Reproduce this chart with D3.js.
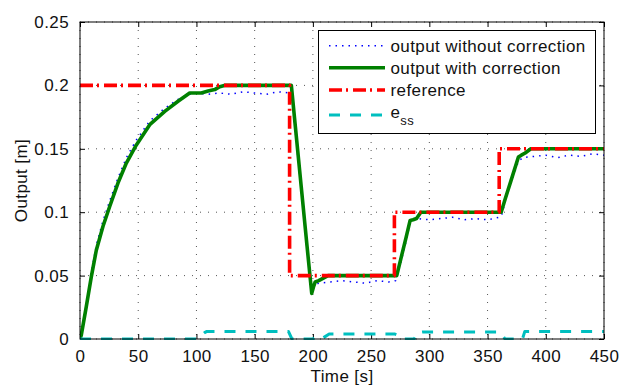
<!DOCTYPE html>
<html>
<head>
<meta charset="utf-8">
<script src="https://cdn.jsdelivr.net/npm/d3@7"></script>
<style>
  body { margin: 0; background: #fff; }
  text { font-family: "Liberation Sans", Arial, sans-serif; letter-spacing: 0.4px; fill: #111; }
</style>
</head>
<body>
<div id="chart"></div>
<script>
// reference step signal
const refTime = [0, 180, 180, 270, 270, 360, 360, 450];
const refValue = [0.2, 0.2, 0.05, 0.05, 0.1, 0.1, 0.15, 0.15];

// output with correction
const withTime = [0, 1.1, 5.4, 9.7, 14, 19.7, 25.5, 32.6, 39.8, 48.4, 59.9, 72.8, 84.2, 94.2, 104.2, 110, 115.7, 120, 124,
  181.5, 185, 190, 195, 199, 200.5, 202, 205, 209, 213, 272, 276, 280, 283.5, 286, 289, 292.7,
  361.7, 365, 370, 376.5, 379, 382.3, 387.2, 450];
const withValue = [0, 0.003, 0.0255, 0.049, 0.07, 0.0887, 0.1045, 0.123, 0.1388, 0.153, 0.169, 0.1795, 0.1875, 0.194, 0.194, 0.1955, 0.1967, 0.199, 0.2,
  0.2, 0.167, 0.12, 0.073, 0.036, 0.041, 0.045, 0.046, 0.048, 0.05, 0.05, 0.065, 0.08, 0.0935, 0.094, 0.095, 0.1,
  0.1, 0.11, 0.1245, 0.1435, 0.145, 0.1467, 0.15, 0.15];

// output without correction
const withoutTime = [0, 1.1, 5.4, 9.7, 14, 19.7, 25.5, 32.6, 39.8, 48.4, 59.9, 72.8, 84.2, 94, 100, 110, 120, 130, 140, 150, 160, 170, 180,
  182, 185, 190, 195, 199, 201, 205, 215, 225, 235, 245, 255, 265, 271, 276, 280, 283.5, 290, 300, 310, 320, 330, 340, 350, 360,
  362, 365, 370, 376.5, 380, 390, 400, 410, 420, 430, 440, 450];
const withoutValue = [0, 0.004, 0.028, 0.052, 0.074, 0.093, 0.109, 0.127, 0.143, 0.157, 0.172, 0.182, 0.189, 0.193, 0.194, 0.193, 0.194, 0.193, 0.195, 0.194, 0.193, 0.195, 0.194,
  0.19, 0.163, 0.117, 0.071, 0.04, 0.042, 0.044, 0.045, 0.046, 0.045, 0.044, 0.046, 0.045, 0.046, 0.062, 0.077, 0.092, 0.095, 0.094, 0.095, 0.096, 0.094, 0.095, 0.094, 0.096,
  0.097, 0.108, 0.123, 0.14, 0.143, 0.144, 0.145, 0.143, 0.145, 0.144, 0.146, 0.145];

// steady state error
const essTime = [0, 100, 103, 107, 109, 179, 182, 200, 203, 206, 209, 214, 270, 273, 277, 287, 290, 294, 360, 362, 365, 380, 382, 450];
const essValue = [0, 0, 0.002, 0.005, 0.006, 0.006, 0, 0, 0.002, 0.002, 0.001, 0.004, 0.004, 0.003, 0, 0, 0.005, 0.0055, 0.0055, 0.004, 0, 0, 0.006, 0.006];

const xTicks = [0, 50, 100, 150, 200, 250, 300, 350, 400, 450];
const yTicks = [0, 0.05, 0.1, 0.15, 0.2, 0.25];
const yTickLabels = ["0", "0.05", "0.1", "0.15", "0.2", "0.25"];

const legendLabels = ["output without correction", "output with correction", "reference", "e"];

// dimensions
var width = 630, height = 388;
var margin = { top: 22, right: 26, bottom: 49, left: 80 };
var innerW = width - margin.left - margin.right,
    innerH = height - margin.top - margin.bottom;

var svg = d3.select("#chart").append("svg")
  .attr("width", width)
  .attr("height", height);

var g = svg.append("g")
  .attr("transform", `translate(${margin.left},${margin.top})`);

var x = d3.scaleLinear().domain([0, 450]).range([0, innerW]);
var y = d3.scaleLinear().domain([0, 0.25]).range([innerH, 0]);

// grid
g.append("g")
  .selectAll("line")
  .data(xTicks)
  .join("line")
  .attr("x1", d => x(d)).attr("x2", d => x(d))
  .attr("y1", 0).attr("y2", innerH)
  .attr("stroke", "#555")
  .attr("stroke-width", 1)
  .attr("stroke-dasharray", "1,7");
g.append("g")
  .selectAll("line")
  .data(yTicks)
  .join("line")
  .attr("x1", 0).attr("x2", innerW)
  .attr("y1", d => y(d)).attr("y2", d => y(d))
  .attr("stroke", "#555")
  .attr("stroke-width", 1)
  .attr("stroke-dasharray", "1,7");

// axes (ticks inside, on all four sides)
var axisStyle = function (sel) {
  sel.select(".domain").remove();
  sel.selectAll(".tick line").attr("stroke", "#000");
  sel.selectAll(".tick text")
    .style("font-family", '"Liberation Sans", Arial, sans-serif')
    .style("font-size", "17px");
};
g.append("g")
  .attr("transform", `translate(0,${innerH})`)
  .call(d3.axisBottom(x).tickValues(xTicks).tickSizeInner(-5).tickSizeOuter(0).tickPadding(11).tickFormat(d3.format("d")))
  .call(axisStyle);
g.append("g")
  .call(d3.axisTop(x).tickValues(xTicks).tickSizeInner(-5).tickSizeOuter(0).tickFormat(""))
  .call(axisStyle);
g.append("g")
  .call(d3.axisLeft(y).tickValues(yTicks).tickSizeInner(-5).tickSizeOuter(0).tickPadding(11)
    .tickFormat((d, i) => yTickLabels[i]))
  .call(axisStyle);
g.append("g")
  .attr("transform", `translate(${innerW},0)`)
  .call(d3.axisRight(y).tickValues(yTicks).tickSizeInner(-5).tickSizeOuter(0).tickFormat(""))
  .call(axisStyle);

// clip
svg.append("clipPath").attr("id", "clip")
  .append("rect").attr("width", innerW).attr("height", innerH + 2).attr("y", -1);

var line = d3.line()
  .x(d => x(d[0]))
  .y(d => y(d[1]));

var plot = g.append("g").attr("clip-path", "url(#clip)");

var series = [
  { t: withoutTime, v: withoutValue, color: "#0000ff", width: 1.5, dash: "1.5,5" },
  { t: withTime, v: withValue, color: "#008000", width: 3.6, dash: null },
  { t: refTime, v: refValue, color: "#ff0000", width: 3.6, dash: "13,4,2,5" },
  { t: essTime, v: essValue, color: "#00bfbf", width: 3, dash: "11,10" }
];

series.forEach(function (s) {
  var pts = s.t.map((t, i) => [t, s.v[i]]);
  plot.append("path")
    .datum(pts)
    .attr("fill", "none")
    .attr("stroke", s.color)
    .attr("stroke-width", s.width)
    .attr("stroke-linejoin", "round")
    .attr("stroke-dasharray", s.dash)
    .attr("d", line);
});

// box
g.append("rect")
  .attr("width", innerW).attr("height", innerH)
  .attr("fill", "none").attr("stroke", "#000").attr("stroke-width", 1);

// axis labels
svg.append("text")
  .attr("x", margin.left + innerW / 2)
  .attr("y", 382)
  .attr("text-anchor", "middle")
  .style("font-size", "17px")
  .text("Time [s]");
svg.append("text")
  .attr("transform", `translate(27,${margin.top + innerH / 2}) rotate(-90)`)
  .attr("text-anchor", "middle")
  .style("font-size", "17px")
  .text("Output [m]");

// legend
var legend = svg.append("g");
legend.append("rect")
  .attr("x", 318.5).attr("y", 30.5)
  .attr("width", 277).attr("height", 103)
  .attr("fill", "#fff").attr("stroke", "#000").attr("stroke-width", 1);
var rowY = [45.7, 67.7, 90, 115];
series.forEach(function (s, i) {
  legend.append("line")
    .attr("x1", 329).attr("x2", 385)
    .attr("y1", rowY[i]).attr("y2", rowY[i])
    .attr("stroke", s.color)
    .attr("stroke-width", s.width)
    .attr("stroke-dasharray", s.dash);
  var t = legend.append("text")
    .attr("x", 390.5)
    .attr("y", rowY[i] + (i === 3 ? 3 : 6))
    .style("font-size", "17px")
    .text(legendLabels[i]);
  if (i === 3) {
    t.append("tspan").attr("dy", 7).style("font-size", "13px").text("ss");
  }
});
</script>
</body>
</html>
